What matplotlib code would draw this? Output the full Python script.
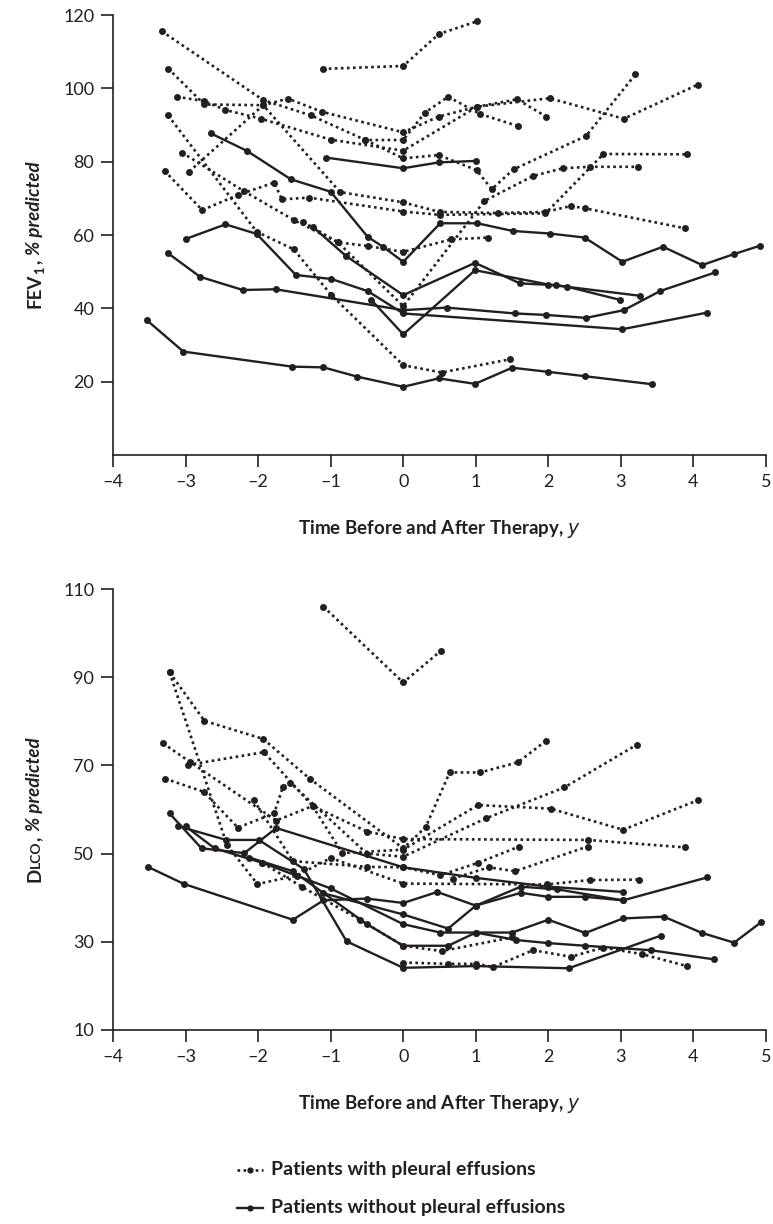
import matplotlib
matplotlib.use("Agg")
import matplotlib.pyplot as plt
from matplotlib.lines import Line2D

# ---- FEV1 panel (top): (years, % predicted) per patient ----
fev_with = [
    ([-1.11, 0.0, 0.49, 1.02], [105.3, 106.1, 114.8, 118.3]),
    ([-3.33, -1.93, -1.27, -0.52, 0.0, 0.30, 0.62, 1.06, 1.58], [115.6, 96.8, 92.6, 85.9, 85.9, 93.4, 97.7, 93.0, 89.7]),
    ([-3.24, -2.74, -1.93, -1.59, -1.12, 0.0, 0.49, 1.02, 1.57, 1.97], [105.4, 95.6, 95.4, 97.2, 93.6, 88.0, 92.3, 95.0, 97.0, 92.3]),
    ([-3.12, -2.74, -2.45, -1.96, -1.0, 0.0, 1.02, 2.02, 3.04, 4.06], [97.7, 96.5, 94.1, 91.7, 86.0, 83.0, 95.0, 97.3, 91.7, 101.0]),
    ([-3.24, -2.02, -1.51, -0.99, 0.0, 0.53, 1.47], [92.6, 60.9, 56.1, 43.6, 24.5, 22.5, 26.1]),
    ([-3.29, -2.77, -2.28, -1.78, -1.67, -1.30, 0.0, 0.50, 1.96, 2.76, 3.91], [77.5, 66.8, 70.9, 74.3, 69.7, 70.2, 66.4, 65.5, 65.9, 82.1, 82.0]),
    ([-3.05, -2.20, -1.50, -0.90, 0.0, 1.12, 1.79, 2.20, 2.57, 3.23], [82.5, 72.0, 64.0, 58.0, 40.6, 69.3, 76.1, 78.2, 78.6, 78.6]),
    ([-2.95, -1.93, -0.87, 0.0, 0.50, 1.30, 1.96, 2.31, 2.50, 3.89], [77.3, 95.4, 71.7, 68.9, 66.3, 66.0, 66.3, 67.9, 67.3, 61.8]),
    ([-0.52, 0.0, 0.49, 1.01, 1.22, 1.52, 2.52, 3.20], [85.9, 80.9, 81.8, 77.7, 72.5, 77.9, 87.0, 103.8]),
    ([-1.38, -0.90, -0.49, 0.0, 0.66, 1.17], [63.6, 58.0, 57.0, 55.4, 58.8, 59.3]),
]
fev_without = [
    ([-3.53, -3.03, -1.53, -1.10, -0.64, 0.0, 0.49, 0.99, 1.50, 1.99, 2.50, 3.43], [36.7, 28.2, 24.1, 23.9, 21.4, 18.6, 20.9, 19.4, 23.8, 22.7, 21.5, 19.3]),
    ([-2.65, -2.15, -1.55, -1.00, -0.49, -0.28, 0.0, 0.51, 1.02, 1.51, 2.02, 2.50, 3.02, 3.58, 4.12, 4.56, 4.92],
     [87.7, 82.9, 75.2, 71.8, 59.5, 56.8, 52.7, 63.2, 63.2, 61.1, 60.4, 59.3, 52.7, 56.8, 51.8, 54.8, 57.1]),
    ([-1.06, 0.0, 0.49, 1.00], [81.1, 78.2, 79.8, 80.2]),
    ([-3.00, -2.45, -2.02, -1.48, -0.99, -0.49, 0.0, 3.02, 4.18], [58.9, 62.9, 60.3, 49.1, 48.0, 44.7, 38.6, 34.3, 38.8]),
    ([-3.24, -2.80, -2.21, -1.76, 0.0, 0.60, 1.54, 1.97, 2.52, 3.04, 3.54, 4.30], [55.0, 48.6, 45.0, 45.2, 39.5, 40.2, 38.6, 38.2, 37.4, 39.5, 44.7, 49.8]),
    ([-1.24, -0.79, 0.0, 0.99, 1.61, 2.11, 2.26, 2.99], [62.1, 54.3, 43.6, 52.4, 46.8, 46.3, 45.9, 42.3]),
    ([-0.44, 0.0, 0.99, 2.00, 3.27], [42.3, 32.9, 50.4, 46.5, 43.4]),
]

# ---- DLCO panel (bottom) ----
dlco_with = [
    ([-1.10, 0.0, 0.52], [106.0, 88.8, 96.0]),
    ([-3.22, -2.74, -1.93, -1.29, 0.0, 0.31, 0.64, 1.06, 1.58, 1.97], [91.1, 80.1, 76.0, 67.0, 51.2, 56.0, 68.4, 68.4, 70.7, 75.6]),
    ([-3.22, -2.43, -2.01, -1.47, -1.00, 0.0, 1.98, 2.57, 3.25], [91.1, 52.0, 43.1, 45.0, 49.0, 43.2, 43.0, 44.0, 44.1]),
    ([-3.31, -2.94, -1.75, -1.25, -0.84, 0.0, 1.03, 2.03, 3.03, 4.06], [75.0, 70.8, 57.5, 60.8, 50.1, 50.9, 61.0, 60.2, 55.4, 62.1]),
    ([-3.28, -2.75, -2.28, -1.78, -1.66, -1.56, -0.50, 0.0, 1.14, 2.22, 3.22], [67.0, 64.0, 55.9, 59.1, 65.0, 66.1, 50.0, 49.3, 58.0, 65.0, 74.7]),
    ([-2.97, -1.92, -1.25, -0.50, 0.0, 2.54, 3.89], [70.1, 73.0, 60.8, 55.0, 53.3, 53.1, 51.4]),
    ([-2.06, -1.52, -0.50, 0.0, 0.51, 1.03, 1.60], [62.1, 48.3, 47.0, 46.9, 45.1, 47.9, 51.6]),
    ([0.68, 1.18, 1.54, 2.54], [44.3, 46.9, 46.0, 51.6]),
    ([0.0, 0.62, 1.00, 1.24, 1.79, 2.31, 2.76, 3.29, 3.91], [25.3, 25.0, 25.0, 24.3, 28.1, 26.6, 28.7, 27.2, 24.5]),
    ([-1.94, -1.40, -0.60, 0.0, 0.53, 1.50], [47.9, 42.5, 35.0, 29.1, 27.9, 31.0]),
]
dlco_without = [
    ([-3.52, -3.02, -1.52, -1.10, -0.50, 0.0, 0.47, 1.00, 1.62, 2.00, 2.51, 3.03, 4.19], [47.0, 43.1, 35.0, 39.4, 39.8, 38.8, 41.3, 38.2, 41.1, 40.2, 40.2, 39.4, 44.6]),
    ([-3.22, -2.78, -2.19, -1.75, 0.0, 1.00, 2.00, 3.03], [59.1, 51.2, 50.1, 55.8, 46.9, 44.5, 42.5, 41.3]),
    ([-3.10, -2.44, -1.99, -1.37, -0.78, 0.0, 1.00, 2.28, 3.55], [56.2, 53.1, 53.1, 46.5, 30.1, 24.1, 24.5, 24.0, 31.4]),
    ([-3.00, -2.60, -1.94, -1.00, 0.0, 0.51, 1.00, 1.50, 2.00, 2.51, 3.03, 3.59, 4.12, 4.56, 4.93],
     [56.2, 51.2, 47.9, 42.1, 34.0, 32.1, 32.1, 32.1, 35.0, 32.0, 35.3, 35.7, 32.0, 29.8, 34.4]),
    ([-2.12, -1.52, -0.50, 0.0, 0.62, 1.00, 1.56, 2.00, 2.51, 3.41, 4.29], [49.1, 46.0, 34.0, 29.1, 29.1, 32.1, 30.4, 29.7, 29.1, 28.1, 26.0]),
    ([-1.10, 0.0, 0.62, 1.00, 1.62, 2.12, 3.03], [41.0, 36.2, 33.0, 38.2, 42.5, 41.9, 39.4]),
]

x_ticks = [-4, -3, -2, -1, 0, 1, 2, 3, 4, 5]
fev_ticks = [20, 40, 60, 80, 100, 120]
dlco_ticks = [10, 30, 50, 70, 90, 110]

W, H = 773, 1224
plt.rcParams["font.family"] = ["Lato", "DejaVu Sans"]
INK = "#231f20"

DOT = dict(color=INK, linestyle=(0, (1.0, 1.3)), linewidth=1.9, marker="o",
           markersize=5, markerfacecolor=INK, markeredgewidth=0)
SOLID = dict(color=INK, linestyle="-", linewidth=1.7, marker="o",
             markersize=5, markerfacecolor=INK, markeredgewidth=0)


def style_axis(ax, ylim, yticks):
    ax.set_xlim(-4, 5)
    ax.set_ylim(*ylim)
    ax.set_xticks(x_ticks)
    ax.set_xticklabels([str(t).replace("-", "\u2013") for t in x_ticks])
    ax.set_yticks(yticks)
    for side in ("top", "right"):
        ax.spines[side].set_visible(False)
    for side in ("left", "bottom"):
        ax.spines[side].set_linewidth(1.2)
        ax.spines[side].set_color(INK)
    ax.tick_params(direction="out", length=8.5, width=1.2, color=INK,
                   labelsize=13, labelcolor=INK, pad=5)


def draw_series(ax, dotted, solid):
    for xs, ys in dotted:
        ax.plot(xs, ys, **DOT, clip_on=False)
    for xs, ys in solid:
        ax.plot(xs, ys, **SOLID, clip_on=False)


def stacked_label(fig, x_px, yc_px, pieces):
    # vertical label made of several differently styled pieces
    r = fig.canvas.get_renderer()
    items = []
    for s, size, style, dx, gap in pieces:
        t = fig.text(0, 0, s, rotation=90, rotation_mode="anchor", ha="left", va="baseline",
                     fontsize=size, fontweight="bold", fontstyle=style, color=INK,
                     transform=None)
        items.append((t, dx, gap))
    lengths = [t.get_window_extent(r).height for t, _, _ in items]
    total = sum(lengths) + sum(g for _, _, g in items)
    y = yc_px - total / 2
    for (t, dx, gap), ln in zip(items, lengths):
        t.set_position((x_px + dx, y))
        y += ln + gap


fig = plt.figure(figsize=(W / 100, H / 100), dpi=100)
ax1 = fig.add_axes([113 / W, 1 - 455 / H, 653 / W, 440 / H])
ax2 = fig.add_axes([113 / W, 1 - 1030 / H, 653 / W, 441 / H])

style_axis(ax1, (0, 120), fev_ticks)
style_axis(ax2, (10, 110), dlco_ticks)
draw_series(ax1, fev_with, fev_without)
draw_series(ax2, dlco_with, dlco_without)

for ax in (ax1, ax2):
    ax.set_xlabel("Time Before and After Therapy, $\\it{y}$", fontsize=13.5,
                  fontweight="bold", color=INK, labelpad=20)

fig.canvas.draw()
stacked_label(fig, 40, H - 235, [("FEV", 13.5, "normal", 0, 0), ("1", 9.5, "normal", 4, 2),
                                 (",", 13.5, "normal", 0, 5), ("% predicted", 13.5, "italic", 0, 0)])
stacked_label(fig, 40, H - 810, [("D", 13.5, "normal", 0, 0), ("LCO", 10, "normal", 0, 0),
                                 (",", 13.5, "normal", 0, 5), ("% predicted", 13.5, "italic", 0, 0)])

# legend drawn by hand under the lower panel
leg_y = [H - 1170, H - 1208]
leg_txt = ["Patients with pleural effusions", "Patients without pleural effusions"]
for y, txt, st in zip(leg_y, leg_txt, (DOT, SOLID)):
    fig.lines.append(Line2D([237 / W, 263 / W], [y / H, y / H], transform=fig.transFigure,
                            color=INK, linestyle=st["linestyle"], linewidth=st["linewidth"]))
    fig.lines.append(Line2D([250 / W], [y / H], transform=fig.transFigure, color=INK,
                            marker="o", markersize=4.5, markeredgewidth=0))
    fig.text(271 / W, y / H, txt, fontsize=14, fontweight="bold", color=INK, va="center")

fig.savefig("out.png", dpi=100)
